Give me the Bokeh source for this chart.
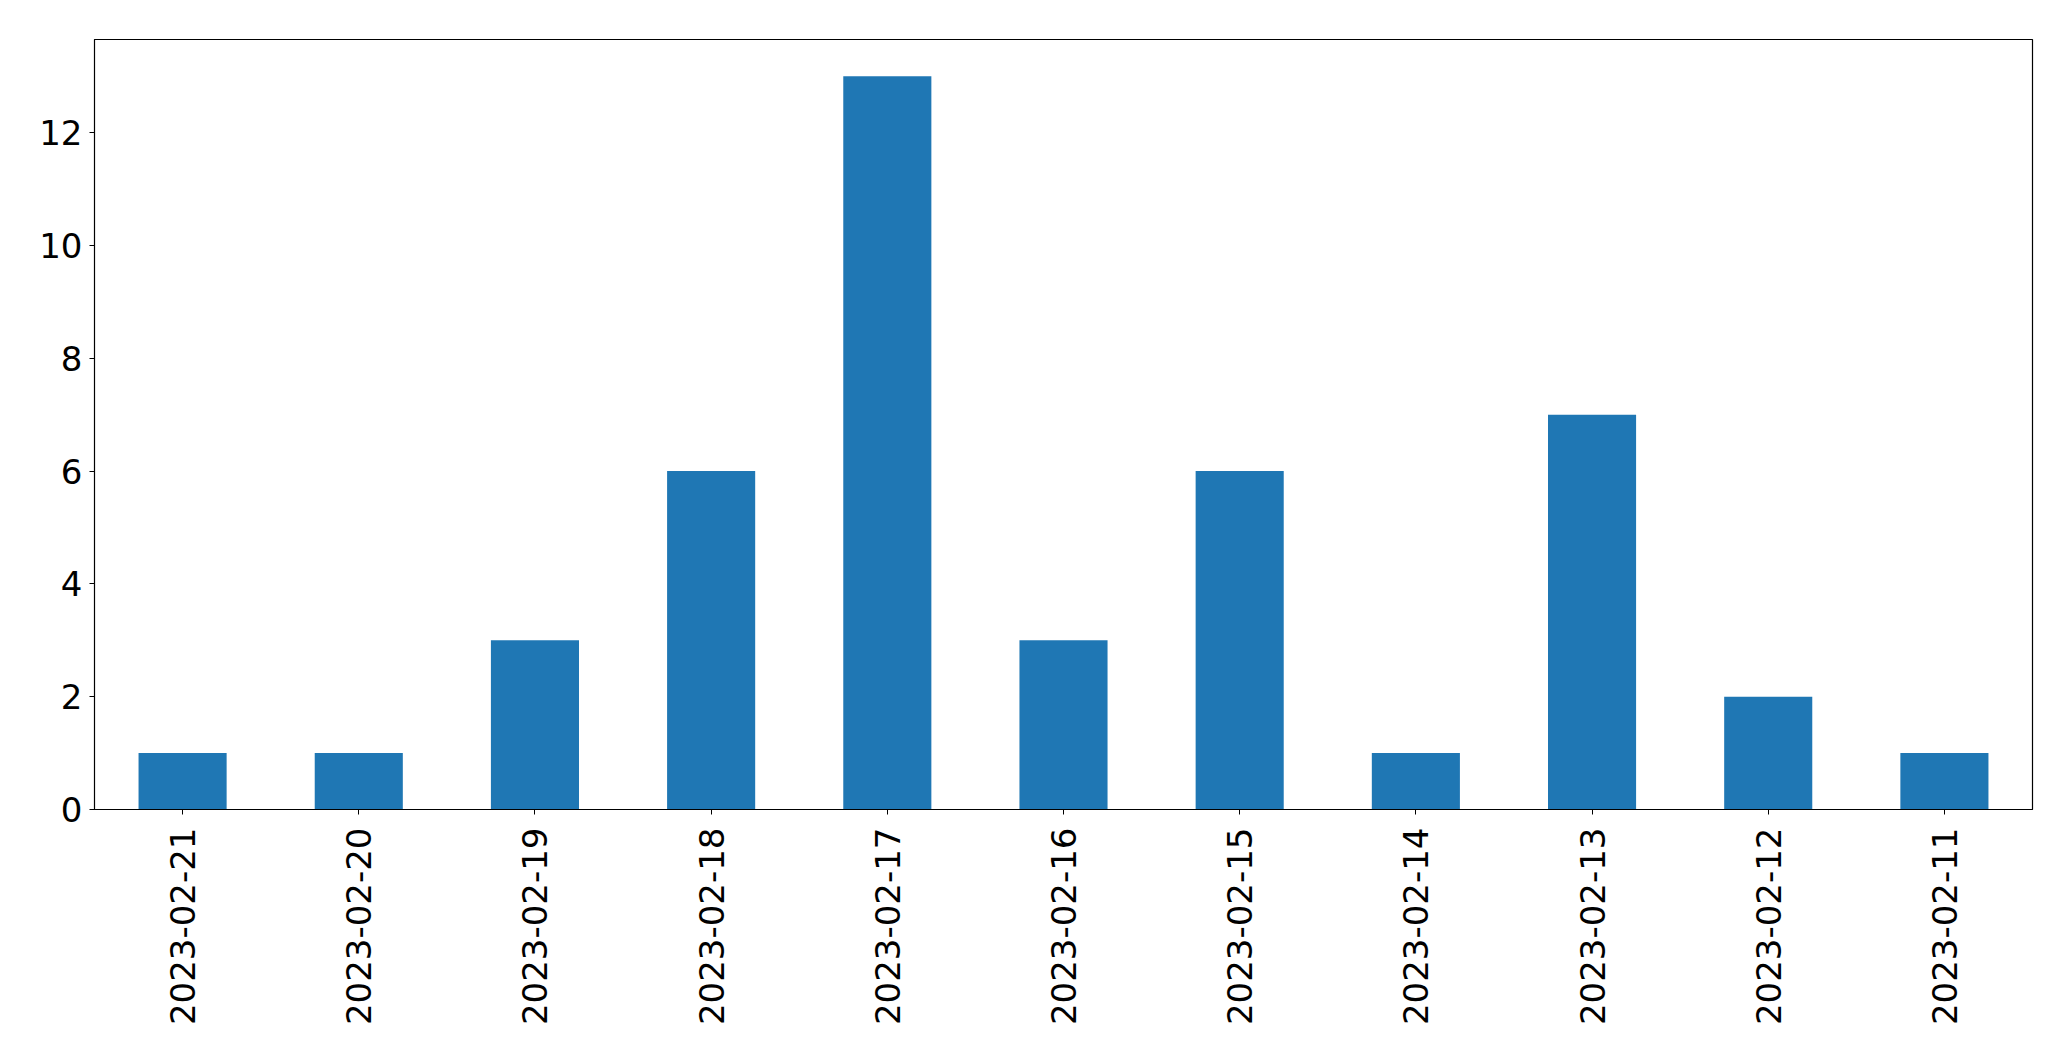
from bokeh.plotting import figure
from bokeh.models import FactorRange, Range1d, FixedTicker, ColumnDataSource
from bokeh.embed import file_html
from bokeh.resources import INLINE
import math

dates = ["2023-02-21", "2023-02-20", "2023-02-19", "2023-02-18", "2023-02-17",
         "2023-02-16", "2023-02-15", "2023-02-14", "2023-02-13", "2023-02-12",
         "2023-02-11"]
counts = [1, 1, 3, 6, 13, 3, 6, 1, 7, 2, 1]
y_ticks = [0, 2, 4, 6, 8, 10, 12]

src = ColumnDataSource(data=dict(x=dates, y=counts))

p = figure(width=2063, height=1053, output_backend="svg", toolbar_location=None,
           x_range=FactorRange(factors=dates, range_padding=0),
           y_range=Range1d(0, 13.65),
           min_border_left=94, min_border_top=39, min_border_right=31, min_border_bottom=244)

p.vbar(x="x", top="y", width=0.5, source=src, fill_color="#1f77b4", line_color=None)

p.xgrid.visible = False
p.ygrid.visible = False
p.outline_line_color = "black"
p.outline_line_width = 1.2
p.outline_line_alpha = 1.0

for ax in (p.xaxis[0], p.yaxis[0]):
    ax.axis_line_color = "black"
    ax.major_tick_out = 5
    ax.major_tick_in = 0
    ax.minor_tick_line_color = None
    ax.major_label_text_font = "DejaVu Sans"
    ax.major_label_text_font_size = "34px"
    ax.major_label_text_color = "black"
    ax.major_tick_line_color = "black"

p.yaxis.ticker = FixedTicker(ticks=y_ticks)
p.yaxis.major_label_standoff = 7
p.xaxis.major_label_orientation = math.pi / 2
p.xaxis.major_label_standoff = 13

open("out.html", "w").write(file_html(p, INLINE))
